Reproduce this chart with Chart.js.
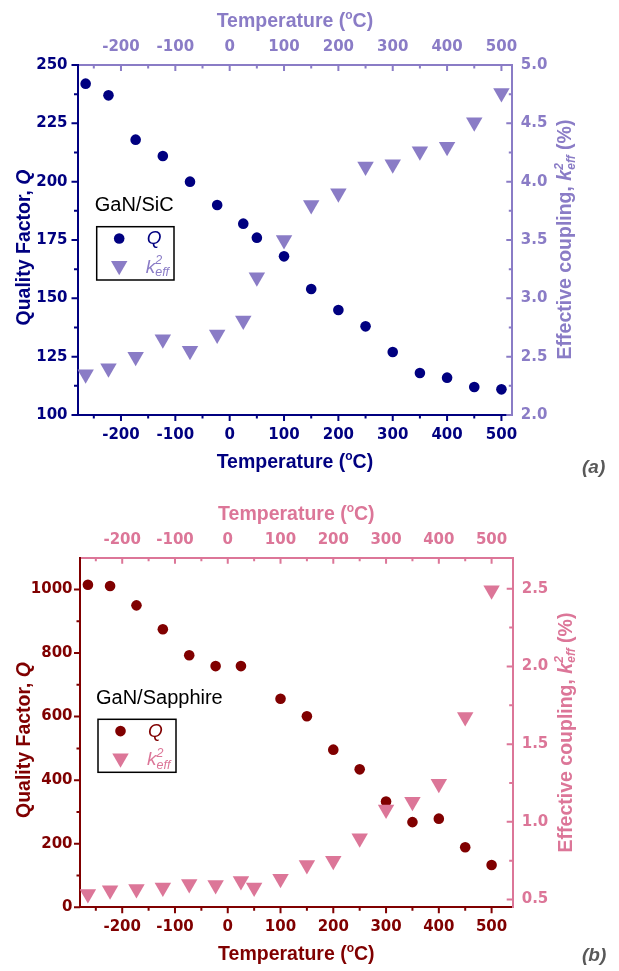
<!DOCTYPE html>
<html>
<head>
<meta charset="utf-8">
<title>GaN resonators: Q and k2eff vs temperature</title>
<script src="https://cdn.jsdelivr.net/npm/chart.js@4.4.1/dist/chart.umd.min.js"></script>
<style>
  html, body { margin: 0; padding: 0; background: #fff; }
  .panel { position: absolute; left: 0; width: 619px; }
  #panelA { top: 0; height: 485px; }
  #panelB { top: 485px; height: 486px; }
</style>
</head>
<body>
<div class="panel" id="panelA"><canvas id="chartA" width="619" height="485"></canvas></div>
<div class="panel" id="panelB"><canvas id="chartB" width="619" height="486"></canvas></div>
<script>
// temperatures in degC, shared by both samples
const temps = [-265, -223, -173, -123, -73, -23, 25, 50, 100, 150, 200, 250, 300, 350, 400, 450, 500];

// (a) GaN/SiC
const qSiC = [242, 237, 218, 211, 200, 190, 182, 176, 168, 154, 145, 138, 127, 118, 116, 112, 111];
const kSiC = [2.35, 2.40, 2.50, 2.65, 2.55, 2.69, 2.81, 3.18, 3.50, 3.80, 3.90, 4.13, 4.15, 4.26, 4.30, 4.51, 4.76];

// (b) GaN/Sapphire (no Q point at 50 degC)
const qSapphire = [1015, 1011, 950, 875, 793, 759, 759, null, 656, 601, 496, 434, 333, 268, 279, 189, 133];
const kSapphire = [0.535, 0.56, 0.568, 0.577, 0.60, 0.594, 0.62, 0.577, 0.633, 0.723, 0.75, 0.895, 1.08, 1.13, 1.245, 1.675, 2.49];

// tick labels
const tempTicks = [-200, -100, 0, 100, 200, 300, 400, 500];
const tempMinor = [-250, -150, -50, 50, 150, 250, 350, 450];
const qSiCTicks = [100, 125, 150, 175, 200, 225, 250];
const qSiCMinor = [112.5, 137.5, 162.5, 187.5, 212.5, 237.5];
const kSiCTicks = [2.0, 2.5, 3.0, 3.5, 4.0, 4.5, 5.0];
const kSiCMinor = [2.25, 2.75, 3.25, 3.75, 4.25, 4.75];
const qSapphireTicks = [0, 200, 400, 600, 800, 1000];
const qSapphireMinor = [100, 300, 500, 700, 900];
const kSapphireTicks = [0.5, 1.0, 1.5, 2.0, 2.5];
const kSapphireMinor = [0.75, 1.25, 1.75, 2.25];

const FONT = "'Liberation Sans', Arial, sans-serif";

function toPoints(xs, ys) {
  const pts = [];
  xs.forEach((x, i) => {
    if (ys[i] !== null) pts.push({ x: x, y: ys[i] });
  });
  return pts;
}

function useTicks(values) {
  return (scale) => {
    scale.ticks = values.map((v) => ({ value: v }));
  };
}

function partWidth(ctx, parts) {
  let cx = 0, prevX = 0, prevW = 0;
  parts.forEach((p) => {
    ctx.font = p.font;
    const w = ctx.measureText(p.t).width;
    if (p.stack) {
      cx = prevX + Math.max(prevW, w);
    } else {
      prevX = cx;
      cx += w;
    }
    prevW = w;
  });
  return cx;
}

// draws mixed-style text (italics, super/subscripts)
function drawRich(ctx, parts, x, y, rotation, align) {
  ctx.save();
  ctx.translate(x, y);
  ctx.rotate(rotation || 0);
  ctx.textAlign = "left";
  ctx.textBaseline = "alphabetic";
  let cx = align === "center" ? -partWidth(ctx, parts) / 2 : 0;
  let prevX = cx, prevW = 0;
  parts.forEach((p) => {
    ctx.font = p.font;
    const w = ctx.measureText(p.t).width;
    let px;
    if (p.stack) {
      px = prevX;
      cx = prevX + Math.max(prevW, w);
    } else {
      px = cx;
      prevX = cx;
      cx += w;
    }
    prevW = w;
    ctx.fillStyle = p.color;
    ctx.fillText(p.t, px, p.dy || 0);
  });
  ctx.restore();
}

function drawMarker(ctx, style, x, y, r, color) {
  ctx.save();
  ctx.fillStyle = color;
  ctx.beginPath();
  if (style === "circle") {
    ctx.arc(x, y, r, 0, Math.PI * 2);
  } else {
    // downward triangle, same geometry as Chart.js triangle rotated 180
    ctx.moveTo(x, y + r);
    ctx.lineTo(x - r * Math.sqrt(3) / 2, y - r / 2);
    ctx.lineTo(x + r * Math.sqrt(3) / 2, y - r / 2);
    ctx.closePath();
  }
  ctx.fill();
  ctx.restore();
}

function drawTickMarks(ctx, scale, values, len, inward, color) {
  const out = { left: [-1, 0], right: [1, 0], top: [0, -1], bottom: [0, 1] }[scale.position];
  const dir = inward ? -1 : 1;
  ctx.save();
  ctx.strokeStyle = color;
  ctx.lineWidth = 2;
  ctx.beginPath();
  values.forEach((v) => {
    const p = scale.getPixelForValue(v);
    if (scale.isHorizontal()) {
      const y0 = scale.position === "bottom" ? scale.top : scale.bottom;
      ctx.moveTo(p, y0);
      ctx.lineTo(p, y0 + out[1] * dir * len);
    } else {
      const x0 = scale.position === "left" ? scale.right : scale.left;
      ctx.moveTo(x0, p);
      ctx.lineTo(x0 + out[0] * dir * len, p);
    }
  });
  ctx.stroke();
  ctx.restore();
}

const originFrame = {
  id: "originFrame",
  afterDraw(chart, args, o) {
    const ctx = chart.ctx;
    const s = chart.scales;
    const major = 6, minor = 3.5;

    drawTickMarks(ctx, s.x, tempTicks, major, false, o.qColor);
    drawTickMarks(ctx, s.x, tempMinor, minor, false, o.qColor);
    drawTickMarks(ctx, s.x2, tempTicks, major, true, o.kColor);
    drawTickMarks(ctx, s.x2, tempMinor, minor, true, o.kColor);
    drawTickMarks(ctx, s.y, o.qTicks, major, false, o.qColor);
    drawTickMarks(ctx, s.y, o.qMinor, minor, false, o.qColor);
    drawTickMarks(ctx, s.y2, o.kTicks, major, true, o.kColor);
    drawTickMarks(ctx, s.y2, o.kMinor, minor, true, o.kColor);

    const big = "bold 19.5px " + FONT;
    const small = "bold 12px " + FONT;
    const midX = (chart.chartArea.left + chart.chartArea.right) / 2;
    const tempTitle = (c) => [
      { t: "Temperature (", font: big, color: c },
      { t: "o", font: small, color: c, dy: -8 },
      { t: "C)", font: big, color: c },
    ];
    drawRich(ctx, tempTitle(o.kColor), midX, o.topTitleY, 0, "center");
    drawRich(ctx, tempTitle(o.qColor), midX, o.bottomTitleY, 0, "center");

    drawRich(ctx, [
      { t: "Quality Factor, ", font: big, color: o.qColor },
      { t: "Q", font: "italic " + big, color: o.qColor },
    ], o.leftTitle[0], o.leftTitle[1], -Math.PI / 2, "center");

    drawRich(ctx, [
      { t: "Effective coupling, ", font: big, color: o.kColor },
      { t: "k", font: "italic " + big, color: o.kColor },
      { t: "2", font: "italic " + small, color: o.kColor, dy: -8.5 },
      { t: "eff", font: "italic " + small, color: o.kColor, dy: 3.5, stack: true },
      { t: " (%)", font: big, color: o.kColor },
    ], o.rightTitle[0], o.rightTitle[1], -Math.PI / 2, "center");

    // legend
    const lg = o.legend;
    drawRich(ctx, [{ t: o.sample, font: "20px " + FONT, color: "#000" }], lg.x - 2, lg.y - 15.5, 0, "left");
    ctx.save();
    ctx.strokeStyle = "#000";
    ctx.lineWidth = 1.5;
    ctx.strokeRect(lg.x, lg.y, lg.w, lg.h);
    ctx.restore();
    drawMarker(ctx, "circle", lg.x + 22.5, lg.y + 11.8, 5.3, o.qColor);
    drawMarker(ctx, "triangle", lg.x + 22.5, lg.y + 39, 9.5, o.kColor);
    const lf = "italic 19px " + FONT;
    const ls = "italic 12.5px " + FONT;
    drawRich(ctx, [{ t: "Q", font: lf, color: o.qColor }], lg.x + 50, lg.y + 17.5, 0, "left");
    drawRich(ctx, [
      { t: "k", font: lf, color: o.kColor },
      { t: "2", font: ls, color: o.kColor, dy: -8.7 },
      { t: "eff", font: ls, color: o.kColor, dy: 3.5, stack: true },
    ], lg.x + 49, lg.y + 46, 0, "left");

    drawRich(ctx, [{ t: o.panel, font: "italic bold 19px " + FONT, color: "#595959" }],
      582, o.panelY, 0, "left");
  },
};

function makeChart(id, p) {
  const tickFont = { family: "'DejaVu Sans', sans-serif", size: 15, weight: "bold" };
  const axis = (position, color, ticks, box, pad, fmt) => ({
    type: "linear",
    position: position,
    min: box.min,
    max: box.max,
    afterBuildTicks: useTicks(ticks),
    afterFit: (scale) => {
      if (scale.isHorizontal()) scale.height = box.size;
      else scale.width = box.size;
    },
    grid: { display: true, drawOnChartArea: false, drawTicks: false },
    border: { display: true, color: color, width: 2 },
    ticks: {
      color: color,
      font: tickFont,
      padding: pad,
      autoSkip: false,
      maxRotation: 0,
      callback: fmt || ((v) => String(v)),
    },
  });

  return new Chart(document.getElementById(id), {
    type: "scatter",
    data: {
      datasets: [
        {
          label: "Q",
          data: toPoints(temps, p.q),
          yAxisID: "y",
          xAxisID: "x",
          order: 1,
          pointStyle: "circle",
          pointRadius: 5.3,
          pointBorderWidth: 0,
          backgroundColor: p.qColor,
          borderColor: p.qColor,
        },
        {
          label: "k2eff",
          data: toPoints(temps, p.k),
          yAxisID: "y2",
          xAxisID: "x",
          order: 0,
          pointStyle: "triangle",
          pointRotation: 180,
          pointRadius: 9.5,
          pointBorderWidth: 0,
          backgroundColor: p.kColor,
          borderColor: p.kColor,
        },
      ],
    },
    options: {
      responsive: false,
      animation: false,
      layout: { padding: 0 },
      plugins: {
        legend: { display: false },
        tooltip: { enabled: false },
        originFrame: p,
      },
      scales: {
        x: axis("bottom", p.qColor, tempTicks, { min: -280, max: p.xMax, size: p.bottom }, p.padBottom),
        x2: axis("top", p.kColor, tempTicks, { min: -280, max: p.xMax, size: p.top }, p.padTop),
        y: axis("left", p.qColor, p.qTicks, { min: p.qMin, max: p.qMax, size: p.left }, p.padLeft),
        y2: axis("right", p.kColor, p.kTicks, { min: p.kMin, max: p.kMax, size: p.right }, p.padRight,
          (v) => v.toFixed(1)),
      },
    },
    plugins: [originFrame],
  });
}

document.addEventListener("DOMContentLoaded", function () {
  makeChart("chartA", {
    q: qSiC, k: kSiC,
    qColor: "#000080", kColor: "#8a7cc6",
    qTicks: qSiCTicks, qMinor: qSiCMinor, kTicks: kSiCTicks, kMinor: kSiCMinor,
    qMin: 100, qMax: 250, kMin: 2.0, kMax: 5.0, xMax: 520,
    left: 77.5, right: 106.7, top: 65, bottom: 70,
    padLeft: 10, padRight: 8.5, padTop: 9, padBottom: 11,
    topTitleY: 26.7, bottomTitleY: 468,
    leftTitle: [29.5, 247.5], rightTitle: [571, 239.5],
    sample: "GaN/SiC",
    legend: { x: 96.7, y: 226.7, w: 77.3, h: 53.3 },
    panel: "(a)", panelY: 472.5,
  });

  makeChart("chartB", {
    q: qSapphire, k: kSapphire,
    qColor: "#800000", kColor: "#dc7698",
    qTicks: qSapphireTicks, qMinor: qSapphireMinor, kTicks: kSapphireTicks, kMinor: kSapphireMinor,
    qMin: 0, qMax: 1100, kMin: 0.45, kMax: 2.7, xMax: 540,
    left: 80, right: 106.3, top: 72.7, bottom: 63.7,
    padLeft: 7.5, padRight: 9, padTop: 9, padBottom: 11,
    topTitleY: 34.5, bottomTitleY: 475,
    leftTitle: [30, 255], rightTitle: [571.5, 247.5],
    sample: "GaN/Sapphire",
    legend: { x: 98, y: 234.3, w: 78, h: 53 },
    panel: "(b)", panelY: 476,
  });
});
</script>
</body>
</html>
